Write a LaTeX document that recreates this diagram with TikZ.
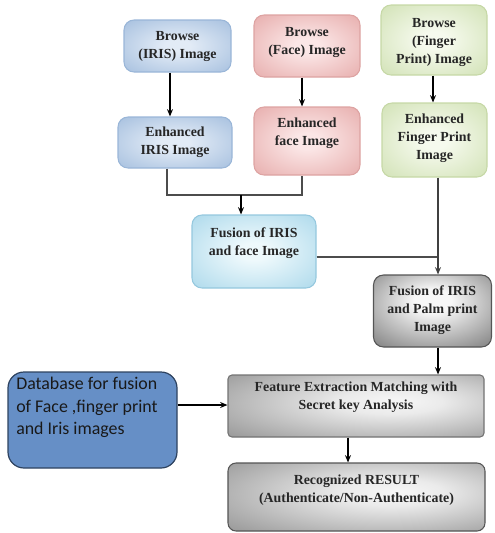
\documentclass[tikz,border=0pt]{standalone}
\usepackage{fontspec}
\setmainfont{Liberation Serif}
\newfontfamily\tnrfont{Liberation Serif}
\newfontfamily\dbfont{Carlito}
\usetikzlibrary{arrows.meta}
\definecolor{bluein}{HTML}{E2EBF6}\definecolor{blueout}{HTML}{9AB7DA}\definecolor{blueline}{HTML}{9AB6D8}
\definecolor{pinkin}{HTML}{FBE6E6}\definecolor{pinkout}{HTML}{E3A2A1}\definecolor{pinkline}{HTML}{DDA3A2}
\definecolor{greenin}{HTML}{F6FAEE}\definecolor{greenout}{HTML}{CADDAA}\definecolor{greenline}{HTML}{C6D8A6}
\definecolor{cyanin}{HTML}{EEF9FC}\definecolor{cyanout}{HTML}{A0D3E8}\definecolor{cyanline}{HTML}{95C8DE}
\definecolor{grayin}{HTML}{F7F7F7}\definecolor{grayout}{HTML}{666666}\definecolor{grayline}{HTML}{555555}
\definecolor{dbfill}{RGB}{102,143,198}\definecolor{dbline}{HTML}{2E4360}
\pgfdeclareradialshading{blueshade}{\pgfpoint{0bp}{0bp}}{color(0bp)=(bluein); color(6bp)=(bluein); color(42bp)=(blueout); color(72bp)=(blueout!88!black)}
\pgfdeclareradialshading{pinkshade}{\pgfpoint{0bp}{0bp}}{color(0bp)=(pinkin); color(6bp)=(pinkin); color(42bp)=(pinkout); color(72bp)=(pinkout!88!black)}
\pgfdeclareradialshading{greenshade}{\pgfpoint{0bp}{0bp}}{color(0bp)=(greenin); color(6bp)=(greenin); color(42bp)=(greenout); color(72bp)=(greenout!90!black)}
\pgfdeclareradialshading{cyanshade}{\pgfpoint{0bp}{0bp}}{color(0bp)=(cyanin); color(6bp)=(cyanin); color(42bp)=(cyanout); color(72bp)=(cyanout!88!black)}
\pgfdeclareradialshading{grayshade}{\pgfpoint{0bp}{8bp}}{color(0bp)=(grayin); color(8bp)=(grayin); color(45bp)=(grayout); color(72bp)=(grayout!80!black)}
\pgfdeclareradialshading{lgrayshade}{\pgfpoint{8bp}{4bp}}{color(0bp)=(grayin); color(10bp)=(grayin!95!black); color(48bp)=(black!50); color(72bp)=(black!62)}
\tikzset{
  box/.style={rounded corners=10*0.75pt, inner sep=0pt, line width=0.8pt},
  bluebox/.style={box, draw=blueline, shading=blueshade},
  pinkbox/.style={box, draw=pinkline, shading=pinkshade},
  greenbox/.style={box, draw=greenline, shading=greenshade},
  cyanbox/.style={box, draw=cyanline, shading=cyanshade},
  graybox/.style={box, draw=grayline, shading=grayshade},
  flatbox/.style={box, rounded corners=4*0.75pt, draw=black!55, shading=lgrayshade},
  txt/.style={align=center, inner sep=0pt, text=black!85, font=\tnrfont\fontsize{10.4}{13.5}\selectfont\bfseries},
  arr/.style={-{Stealth[length=5.5pt,width=4.5pt]}, line width=0.9pt, black},
  ln/.style={line width=1.1pt, black!70}
}
\begin{document}
\begin{tikzpicture}[x=0.75pt,y=-0.75pt]
\useasboundingbox (0,0) rectangle (494,533);
% boxes
\node[bluebox, minimum width=107*0.75pt, minimum height=52*0.75pt] (bi) at (177.5,46) {};
\node[pinkbox, minimum width=106*0.75pt, minimum height=62*0.75pt] (bf) at (307,46) {};
\node[greenbox, minimum width=106*0.75pt, minimum height=70*0.75pt] (bp) at (434,40) {};
\node[bluebox, minimum width=114*0.75pt, minimum height=51*0.75pt] (ei) at (175,142.5) {};
\node[pinkbox, minimum width=106*0.75pt, minimum height=68*0.75pt] (ef) at (307,141) {};
\node[greenbox, minimum width=105*0.75pt, minimum height=74*0.75pt] (ep) at (434.5,140) {};
\node[cyanbox, minimum width=124*0.75pt, minimum height=73*0.75pt] (fu1) at (254,251.5) {};
\node[graybox, minimum width=118*0.75pt, minimum height=72*0.75pt] (fu2) at (432.5,311) {};
\node[flatbox, minimum width=256*0.75pt, minimum height=62*0.75pt] (fe) at (356,406) {};
\node[graybox, rounded corners=8*0.75pt, minimum width=257*0.75pt, minimum height=68*0.75pt, shading=lgrayshade] (re) at (356.5,497) {};
\node[box, rounded corners=16*0.75pt, draw=dbline, fill=dbfill, line width=0.9pt, minimum width=169*0.75pt, minimum height=96*0.75pt] (db) at (92.5,420) {};
% texts
\node[txt] (bit) at (177.5,46) {Browse\\(IRIS) Image};
\node[txt] (bft) at (307,42) {Browse\\(Face) Image};
\node[txt] (bpt) at (434,42) {Browse\\(Finger\\Print) Image};
\node[txt] (eit) at (175,142.5) {Enhanced\\IRIS Image};
\node[txt] (eft) at (307,133) {Enhanced\\face Image};
\node[txt] (ept) at (434.5,138.5) {Enhanced\\Finger Print\\Image};
\node[txt] (fu1t) at (254,243) {Fusion of IRIS\\and face Image};
\node[txt] (fu2t) at (432.5,310) {Fusion of IRIS\\and Palm print\\Image};
\node[txt] (fet) at (356,397) {Feature Extraction Matching with\\Secret key Analysis};
\node[txt] (ret) at (356.5,490) {Recognized RESULT\\(Authenticate/Non-Authenticate)};
\node[align=left, anchor=west, inner sep=0pt, text=black!90, font=\dbfont\fontsize{13.4}{17}\selectfont] (dbt) at (16,407.5) {Database for fusion\\of Face ,finger print\\and Iris images};
% connectors
\coordinate (j1) at (167,195);
\coordinate (j2) at (302,195);
\coordinate (j3) at (241,195);
\coordinate (j4) at (438,257);
\draw[arr] (bi.south -| 170,0) -- (ei.north -| 170,0);
\draw[arr] (bf.south -| 302,0) -- (ef.north -| 302,0);
\draw[arr] (bp.south -| 433,0) -- (ep.north -| 433,0);
\draw[ln] (ei.south -| j1) -- (j1) -- (j2) -- (ef.south -| j2);
\draw[arr] (j3) -- (fu1.north -| j3);
\draw[ln] (fu1.east |- j4) -- (j4);
\draw[arr, black!75] (ep.south -| j4) -- (fu2.north -| j4);
\draw[arr] (fu2.south -| j4) -- (fe.north -| j4);
\draw[arr] (db.east |- 0,405) -- (fe.west |- 0,405);
\draw[arr] (fe.south -| 348,0) -- (re.north -| 348,0);
\end{tikzpicture}
\end{document}
